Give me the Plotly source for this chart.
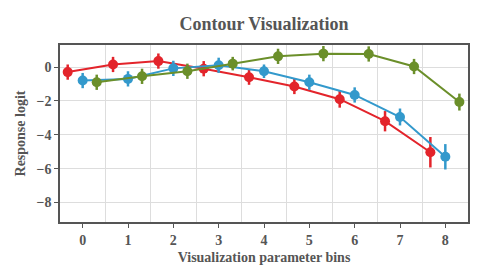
import plotly.graph_objects as go

bins = [0, 1, 2, 3, 4, 5, 6, 7, 8]
tick_labels = ["0", "1", "2", "3", "4", "5", "6", "7", "8"]

red_y = [-0.3, 0.15, 0.35, -0.1, -0.6, -1.15, -1.9, -3.2, -5.03]
red_err = [0.45, 0.45, 0.45, 0.45, 0.45, 0.45, 0.5, 0.6, 0.9]

blue_y = [-0.8, -0.7, -0.08, 0.1, -0.25, -0.9, -1.65, -2.95, -5.3]
blue_err = [0.45, 0.45, 0.45, 0.45, 0.4, 0.45, 0.45, 0.5, 0.75]

green_y = [-0.9, -0.55, -0.25, 0.2, 0.63, 0.79, 0.77, 0.03, -2.07]
green_err = [0.45, 0.45, 0.45, 0.4, 0.45, 0.45, 0.45, 0.45, 0.5]

series = [
    ("red", red_y, red_err, -0.33, "#e3242b"),
    ("blue", blue_y, blue_err, 0.0, "#3399cc"),
    ("green", green_y, green_err, 0.31, "#6b8f2a"),
]

fig = go.Figure()
for name, ys, errs, off, col in series:
    xs = [b + off for b in bins]
    fig.add_trace(go.Scatter(
        x=xs, y=ys, mode="lines+markers", name=name,
        line=dict(color=col, width=2),
        marker=dict(color=col, size=10),
        error_y=dict(type="data", array=errs, color=col, thickness=2.5, width=0),
        showlegend=False,
    ))

font_fam = "Liberation Serif, DejaVu Serif, serif"
fig.update_layout(
    width=471, height=260,
    margin=dict(l=52, r=11, t=37, b=46),
    paper_bgcolor="white", plot_bgcolor="white",
    title=dict(text="<b>Contour Visualization</b>", x=0.5, xref="paper", xanchor="center",
               y=0.938, yanchor="middle",
               font=dict(family=font_fam, size=18, color="#555555")),
    font=dict(family=font_fam, color="#555555"),
)
fig.update_xaxes(
    range=[-0.5, 8.5], automargin=False,
    tickvals=bins, ticktext=["<b>%s</b>" % t for t in tick_labels],
    tickfont=dict(family=font_fam, size=14, color="#555555"),
    ticks="outside", ticklen=4, tickcolor="#555555",
    showgrid=False,
    showline=True, linecolor="#555555", linewidth=1.5, mirror=True,
    title=dict(text="<b>Visualization parameter bins</b>",
               font=dict(family=font_fam, size=14, color="#555555"), standoff=6),
    zeroline=False,
)
fig.update_xaxes(minor=dict(tickvals=[0.5, 1.5, 2.5, 3.5, 4.5, 5.5, 6.5, 7.5],
                            showgrid=True, gridcolor="#dddddd", gridwidth=1, ticks=""))
fig.update_yaxes(
    range=[-9.15, 1.3], automargin=False,
    tickvals=[-8, -6, -4, -2, 0],
    ticktext=["<b>−8</b>", "<b>−6</b>", "<b>−4</b>", "<b>−2</b>", "<b>0</b>"],
    tickfont=dict(family=font_fam, size=14, color="#555555"),
    ticks="outside", ticklen=4, tickcolor="#555555",
    showgrid=True, gridcolor="#dddddd", gridwidth=1,
    showline=True, linecolor="#555555", linewidth=1.5, mirror=True,
    zeroline=False,
    title=dict(text="<b>Response logit</b>",
               font=dict(family=font_fam, size=14, color="#555555"), standoff=8),
)

fig.write_html("out.html")
